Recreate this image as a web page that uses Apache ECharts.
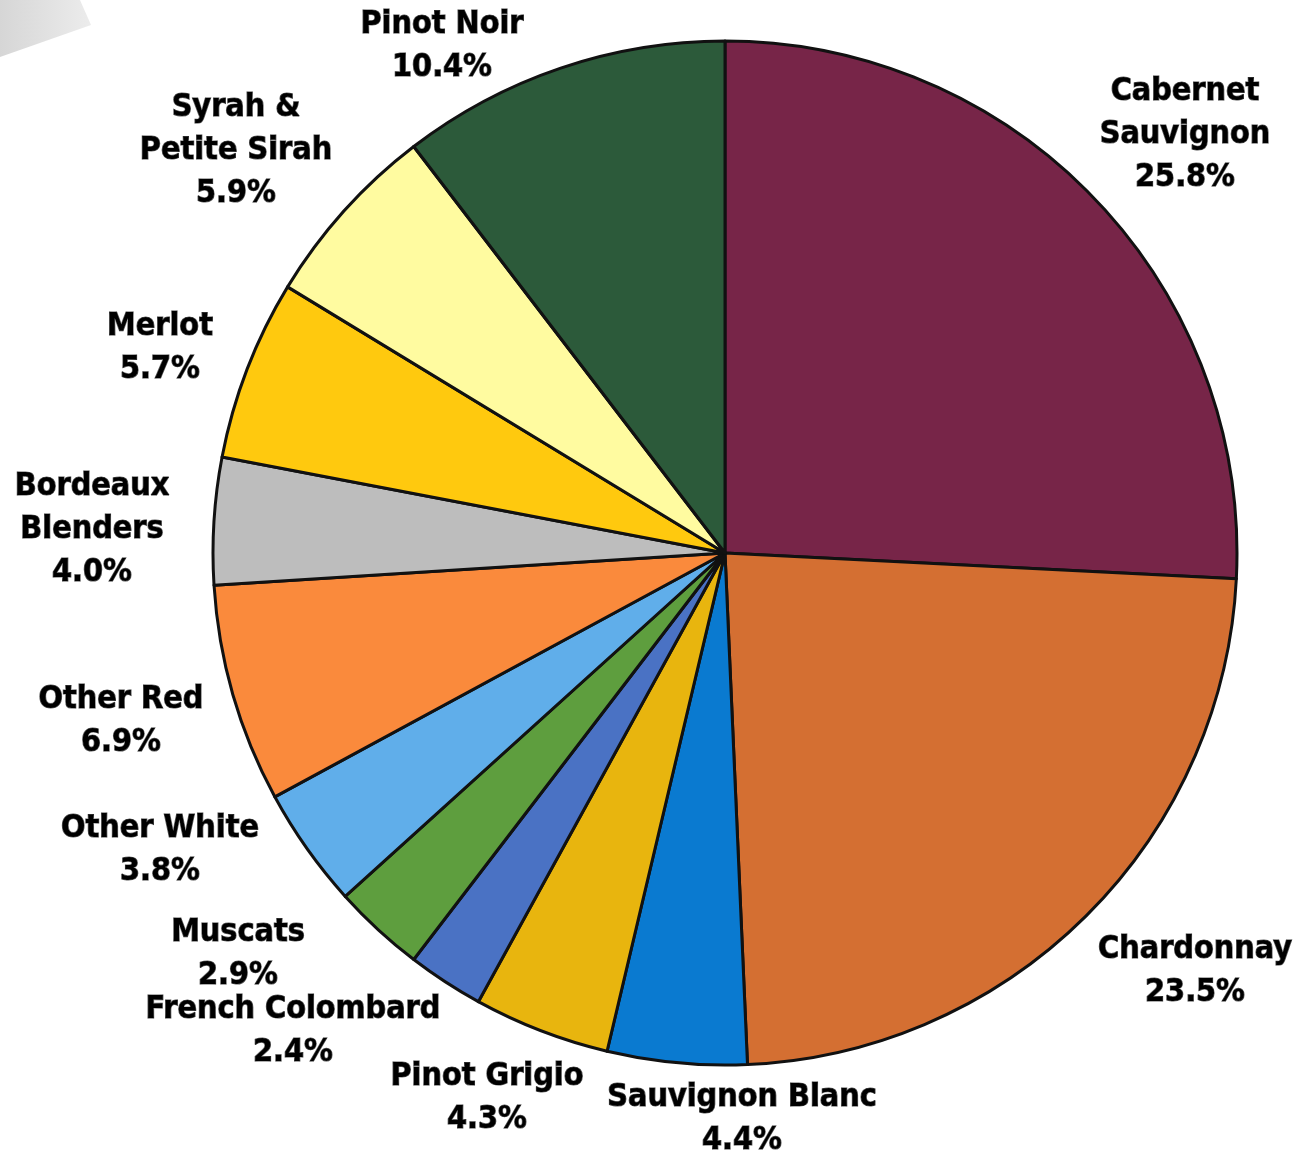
<!DOCTYPE html>
<html>
<head>
<meta charset="utf-8">
<script src="https://cdn.jsdelivr.net/npm/echarts@6/dist/echarts.min.js"></script>
<style>html,body{margin:0;padding:0;background:#fff}#c{width:1301px;height:1151px}</style>
</head>
<body>
<div id="c"></div>
<script>
const categories = ['Cabernet\nSauvignon','Chardonnay','Sauvignon Blanc','Pinot Grigio','French Colombard','Muscats','Other White','Other Red','Bordeaux\nBlenders','Merlot','Syrah &\nPetite Sirah','Pinot Noir'];
const values = [25.8, 23.5, 4.4, 4.3, 2.4, 2.9, 3.8, 6.9, 4.0, 5.7, 5.9, 10.4];
const colors = ['#772548','#D46F32','#0A7AD0','#E8B50E','#4A72C4','#5E9E3E','#60AEEA','#FA8A3C','#BDBDBD','#FFC90E','#FFFBA0','#2C5A3A'];
// label centre offsets from the pie centre (layout only)
const labelOffset = [[460,-418],[470,418],[17,566],[-238,545],[-432,478],[-487,401],[-565,297],[-604,168],[-633,-23],[-565,-205],[-489,-402],[-283,-507]];

const CX = 725, CY = 553, R = 512;

const chart = echarts.init(document.getElementById('c'), null, {renderer:'canvas'});
chart.setOption({
  animation: false,
  backgroundColor: '#fff',
  graphic: [{
    type: 'polygon',
    shape: { points: [[0,0],[80,0],[91,25],[0,57]] },
    style: { fill: new echarts.graphic.LinearGradient(0,0,1,0,[{offset:0,color:'#d6d6d6'},{offset:1,color:'#ececec'}]) },
    z: -1
  }],
  series: [{
    type: 'pie',
    center: [CX, CY],
    radius: [0, R],
    startAngle: 90,
    clockwise: true,
    data: categories.map((c,i)=>({name:c, value:values[i], itemStyle:{color:colors[i]}})),
    itemStyle: { borderColor: '#111', borderWidth: 3 },
    label: {
      show: true,
      position: 'outside',
      formatter: p => p.name + '\n' + p.value.toFixed(1) + '%',
      fontFamily: 'DejaVu Sans Condensed',
      fontWeight: 'bold',
      fontSize: 32,
      lineHeight: 43,
      color: '#000',
      textBorderColor: '#000',
      textBorderWidth: 1.2,
      textShadowColor: 'rgba(255,255,255,0.9)',
      textShadowBlur: 4,
      overflow: 'none',
      width: 400,
      align: 'center'
    },
    labelLine: { show: false },
    labelLayout: function (p) {
      const o = labelOffset[p.dataIndex];
      return { x: CX + o[0], y: CY + o[1], align: 'center', verticalAlign: 'middle' };
    },
    emphasis: { disabled: true }
  }]
});
</script>
</body>
</html>
